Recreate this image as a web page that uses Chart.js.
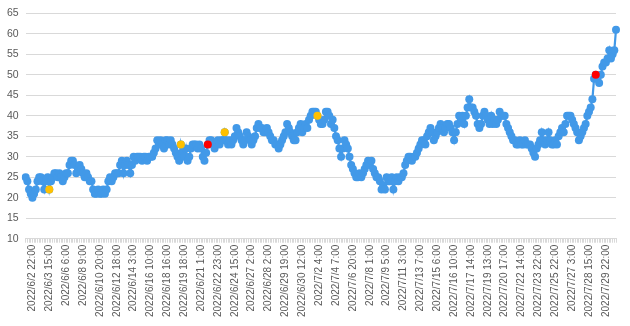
<!DOCTYPE html>
<html>
<head>
<meta charset="utf-8">
<script src="https://cdn.jsdelivr.net/npm/chart.js@4/dist/chart.umd.min.js"></script>
<style>
html,body{margin:0;padding:0;background:#fff;}
#wrap{width:630px;height:326px;}
</style>
</head>
<body>
<div id="wrap"><canvas id="c" width="630" height="326"></canvas></div>
<script>
const tickLabels = [
"2022/6/2 22:00","2022/6/3 15:00","2022/6/6 6:00","2022/6/8 9:00","2022/6/10 20:00",
"2022/6/12 18:00","2022/6/14 3:00","2022/6/16 10:00","2022/6/18 16:00","2022/6/19 18:00",
"2022/6/21 1:00","2022/6/22 23:00","2022/6/24 15:00","2022/6/27 2:00","2022/6/28 2:00",
"2022/6/29 19:00","2022/6/30 12:00","2022/7/2 4:00","2022/7/4 7:00","2022/7/6 20:00",
"2022/7/8 1:00","2022/7/9 5:00","2022/7/11 3:00","2022/7/13 7:00","2022/7/15 6:00",
"2022/7/16 10:00","2022/7/17 14:00","2022/7/19 13:00","2022/7/20 17:00","2022/7/22 14:00",
"2022/7/23 22:00","2022/7/25 22:00","2022/7/27 3:00","2022/7/28 15:00","2022/7/29 22:00"
];
const labelFirstIndex = 4;
const labelInterval = 10;

const values = [
25,24,22,21,20,21,22,24,25,25,
24,22,24,25,22,24,25,26,26,25,
26,25,24,25,26,26,28,29,29,28,
26,27,28,27,26,25,26,25,24,24,
22,21,21,22,21,21,22,21,22,24,
25,24,25,26,26,26,28,29,26,28,
29,28,26,28,30,29,30,30,30,29,
30,30,29,30,30,30,31,32,34,33,
34,33,32,34,34,33,34,33,32,31,
30,29,33,31,30,32,29,30,32,33,
33,33,32,33,32,30,29,31,33,34,
34,33,32,33,34,33,34,34,36,34,
33,34,33,34,35,37,36,35,34,33,
34,36,35,34,33,34,35,37,38,37,
37,36,36,37,36,35,34,34,33,33,
32,33,34,35,36,38,37,36,35,34,
34,36,37,38,36,37,38,37,39,40,
41,41,41,40,39,38,38,39,41,41,
40,38,39,37,35,34,32,30,32,34,
33,32,30,28,27,26,25,25,26,25,
26,27,28,29,28,29,27,26,25,25,
24,22,23,22,25,24,24,25,22,24,
25,24,25,25,26,28,29,30,30,29,
30,30,31,32,33,34,34,33,35,36,
37,36,34,35,36,37,38,37,36,37,
38,38,37,36,34,36,38,40,39,40,
38,40,42,44,42,42,41,40,38,37,
38,40,41,40,39,38,40,38,39,38,
39,41,40,40,40,38,37,36,35,34,
34,33,33,34,33,33,34,33,33,33,
32,31,30,32,33,34,36,34,33,34,
36,34,33,33,34,33,35,36,37,36,
38,40,40,40,39,38,37,36,34,35,
36,37,38,40,41,42,44,49,50,49,
48,50,52,53,53,54,56,54,55,56,61
];
const yellowIdx = [14, 92, 118, 173];
const redIdx = [108, 338];

const BLUE = '#4299e8', YELLOW = '#ffc000', RED = '#ff0000';
const GRID = '#d9d9d9', TEXT = '#595959';

const labels = values.map((v, i) => {
  const k = i - labelFirstIndex;
  return (k >= 0 && k % labelInterval === 0 && tickLabels[k / labelInterval]) ? tickLabels[k / labelInterval] : '';
});
const highlight = values.map((v, i) => (yellowIdx.includes(i) || redIdx.includes(i)) ? v : null);
const hlColors = values.map((v, i) => redIdx.includes(i) ? RED : (yellowIdx.includes(i) ? YELLOW : BLUE));

new Chart(document.getElementById('c'), {
  type: 'line',
  data: {
    labels: labels,
    datasets: [
      {
        data: highlight,
        showLine: false,
        pointRadius: 4,
        pointBorderWidth: 0,
        pointBackgroundColor: hlColors,
        pointBorderColor: hlColors,
        order: 0
      },
      {
        data: values,
        borderColor: BLUE,
        borderWidth: 2.2,
        tension: 0,
        pointRadius: 4,
        pointBorderWidth: 0,
        pointBackgroundColor: BLUE,
        pointBorderColor: BLUE,
        order: 1
      }
    ]
  },
  options: {
    responsive: false,
    animation: false,
    devicePixelRatio: 1,
    layout: { padding: { left: 0, right: 7, top: 0, bottom: 7 } },
    plugins: { legend: { display: false }, tooltip: { enabled: false } },
    scales: {
      x: {
        type: 'category',
        offset: false,
        grid: { drawOnChartArea: false, drawTicks: true, tickLength: 4, color: GRID, lineWidth: 1 },
        border: { display: true, color: GRID },
        ticks: {
          autoSkip: false,
          minRotation: 90,
          maxRotation: 90,
          padding: 2,
          color: TEXT,
          font: { family: 'Liberation Sans, Arial, sans-serif', size: 10 }
        }
      },
      y: {
        min: 10,
        max: 65,
        grid: { color: GRID, lineWidth: 1, drawTicks: false },
        border: { display: false },
        ticks: {
          stepSize: 5,
          padding: 7,
          color: TEXT,
          font: { family: 'Liberation Sans, Arial, sans-serif', size: 10.5 }
        }
      }
    }
  }
});
</script>
</body>
</html>
